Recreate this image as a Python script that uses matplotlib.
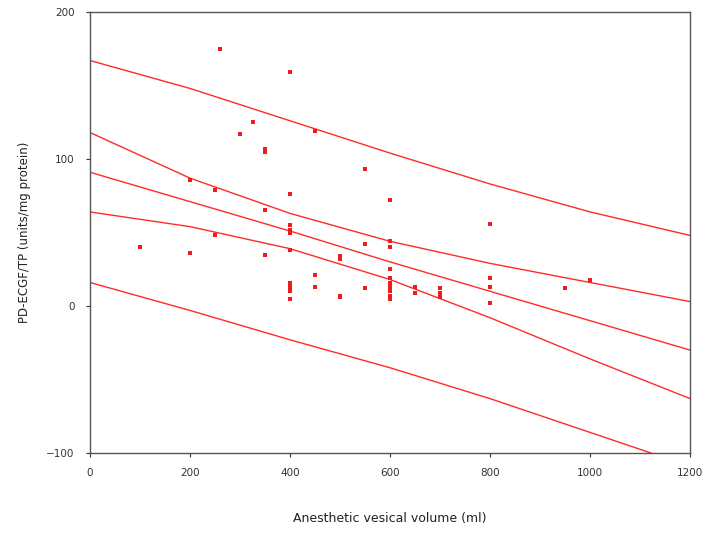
import numpy as np
import matplotlib.pyplot as plt

# scatter data (volume ml, PD-ECGF/TP)
volume = [100, 200, 200, 250, 250, 260, 300, 325, 350, 350, 350, 350,
          400, 400, 400, 400, 400, 400, 400, 400, 400, 400, 400,
          450, 450, 450, 500, 500, 500, 500, 550, 550, 550,
          600, 600, 600, 600, 600, 600, 600, 600, 600, 600,
          650, 650, 700, 700, 700, 800, 800, 800, 800, 950, 1000]
ratio = [40, 86, 36, 79, 48, 175, 117, 125, 107, 105, 65, 35,
         159, 76, 55, 52, 50, 38, 16, 12, 10, 5, 14,
         119, 21, 13, 34, 32, 7, 6, 93, 42, 12,
         72, 44, 40, 25, 19, 16, 13, 10, 7, 5,
         13, 9, 12, 9, 6, 56, 19, 13, 2, 12, 18]

# regression line with confidence / prediction bands, read at these volumes
band_x = [0, 200, 400, 600, 800, 1000, 1200]
upper_pred = [167, 148, 126, 104, 83, 64, 48]
upper_conf = [118, 87, 63, 44, 29, 16, 3]
fit_line = [91, 71, 51, 30, 10, -10, -30]
lower_conf = [64, 54, 39, 18, -8, -36, -63]
lower_pred = [16, -3, -23, -42, -63, -86, -109]

red = '#ff2a2a'

fig = plt.figure(figsize=(7.07, 5.33), dpi=100)
ax = fig.add_axes([0.1273, 0.150, 0.849, 0.8275])

for ys in [upper_pred, upper_conf, fit_line, lower_conf, lower_pred]:
    ax.plot(band_x, ys, color=red, lw=1.0)

ax.plot(volume, ratio, 's', color='#ee1c1c', ms=3, mew=0)

ax.set_xlim(0, 1200)
ax.set_ylim(-100, 200)
ax.set_xticks(np.arange(0, 1201, 200))
ax.set_yticks([-100, 0, 100, 200])
ax.tick_params(direction='out', length=3, width=0.8, labelsize=7.5,
               colors='#333333', pad=8)
for s in ax.spines.values():
    s.set_color('#555555')
    s.set_linewidth(1.0)

ax.set_xlabel('Anesthetic vesical volume (ml)', fontsize=9, color='#222222',
              labelpad=24)
ax.set_ylabel('PD-ECGF/TP (units/mg protein)', fontsize=8.5, color='#222222',
              labelpad=11)

fig.savefig('out.png', dpi=100)
